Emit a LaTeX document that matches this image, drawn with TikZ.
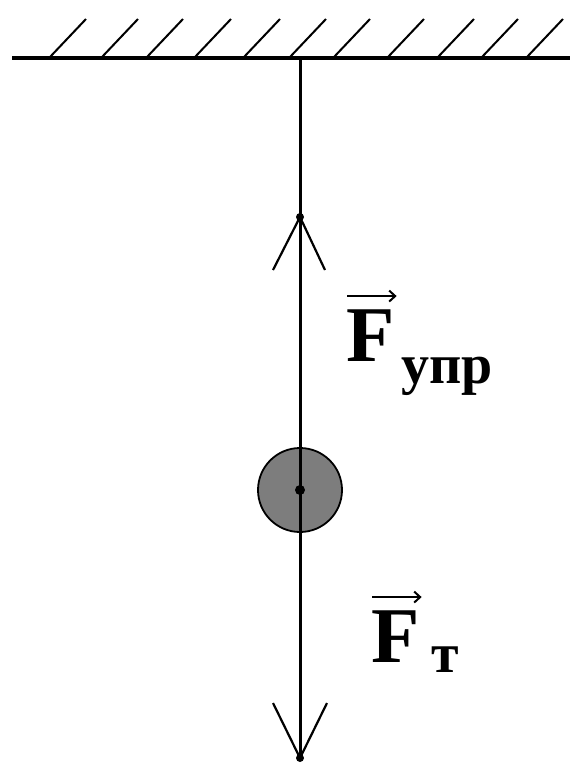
\documentclass[tikz,border=0pt]{standalone}
\usepackage{fontspec}
\setmainfont{Liberation Serif}
\usetikzlibrary{arrows.meta}
\definecolor{ballgray}{RGB}{125,125,125}
\tikzset{
  ceiling/.style={line width=3.4pt, black},
  hatch/.style={line width=2pt, black},
  rope/.style={line width=3pt, black},
  head/.style={line width=2.2pt, black},
  ball/.style={circle, draw=black, line width=1.8pt, fill=ballgray, minimum size=84pt, inner sep=0pt},
  tipdot/.style={circle, fill=black, minimum size=8pt, inner sep=0pt},
  bigF/.style={anchor=base west, inner sep=0pt, font=\bfseries\fontsize{79}{79}\selectfont},
  sub/.style={anchor=base west, inner sep=0pt, font=\bfseries\fontsize{56}{56}\selectfont},
  vec/.style={line width=2.4pt, -{Straight Barb[length=6pt,width=11pt,line width=2pt]}}
}
\begin{document}
\begin{tikzpicture}[x=1pt,y=-1pt]
\useasboundingbox[fill=white] (0,0) rectangle (570,772);
% ceiling
\coordinate (cl) at (12,58);
\coordinate (cr) at (570,58);
\draw[ceiling] (cl) -- (cr);
\foreach \x in {50,102,147,195,244,290,334,388,438,482,527}
  \draw[hatch] (\x,57) -- ++(36,-38);
% rope, ball and force arrows
\coordinate (top) at (300,58);
\coordinate (up) at (300,217);
\coordinate (upl) at (273,270);
\coordinate (upr) at (325,270);
\coordinate (down) at (300,758);
\coordinate (dnl) at (273,703);
\coordinate (dnr) at (327,703);
\node[ball] (ball) at (300,490) {};
\draw[rope] (top) -- (down);
\draw[head] (upl) -- (up) -- (upr);
\draw[head] (dnl) -- (down) -- (dnr);
\node[tipdot] (d1) at (up) {};
\node[tipdot] (d2) at (down) {};
\node[tipdot, minimum size=10pt] (d3) at (ball.center) {};
% labels
\node[bigF] (F1) at (346,361) {F};
\node[sub] (s1) at (401,383) {упр};
\draw[vec] ([yshift=13pt,xshift=1pt]F1.north west) -- ([yshift=13pt,xshift=2pt]F1.north east);
\node[bigF] (F2) at (371,662) {F};
\node[sub] (s2) at (431,672) {т};
\draw[vec] ([yshift=13pt,xshift=1pt]F2.north west) -- ([yshift=13pt,xshift=2pt]F2.north east);
\end{tikzpicture}
\end{document}
